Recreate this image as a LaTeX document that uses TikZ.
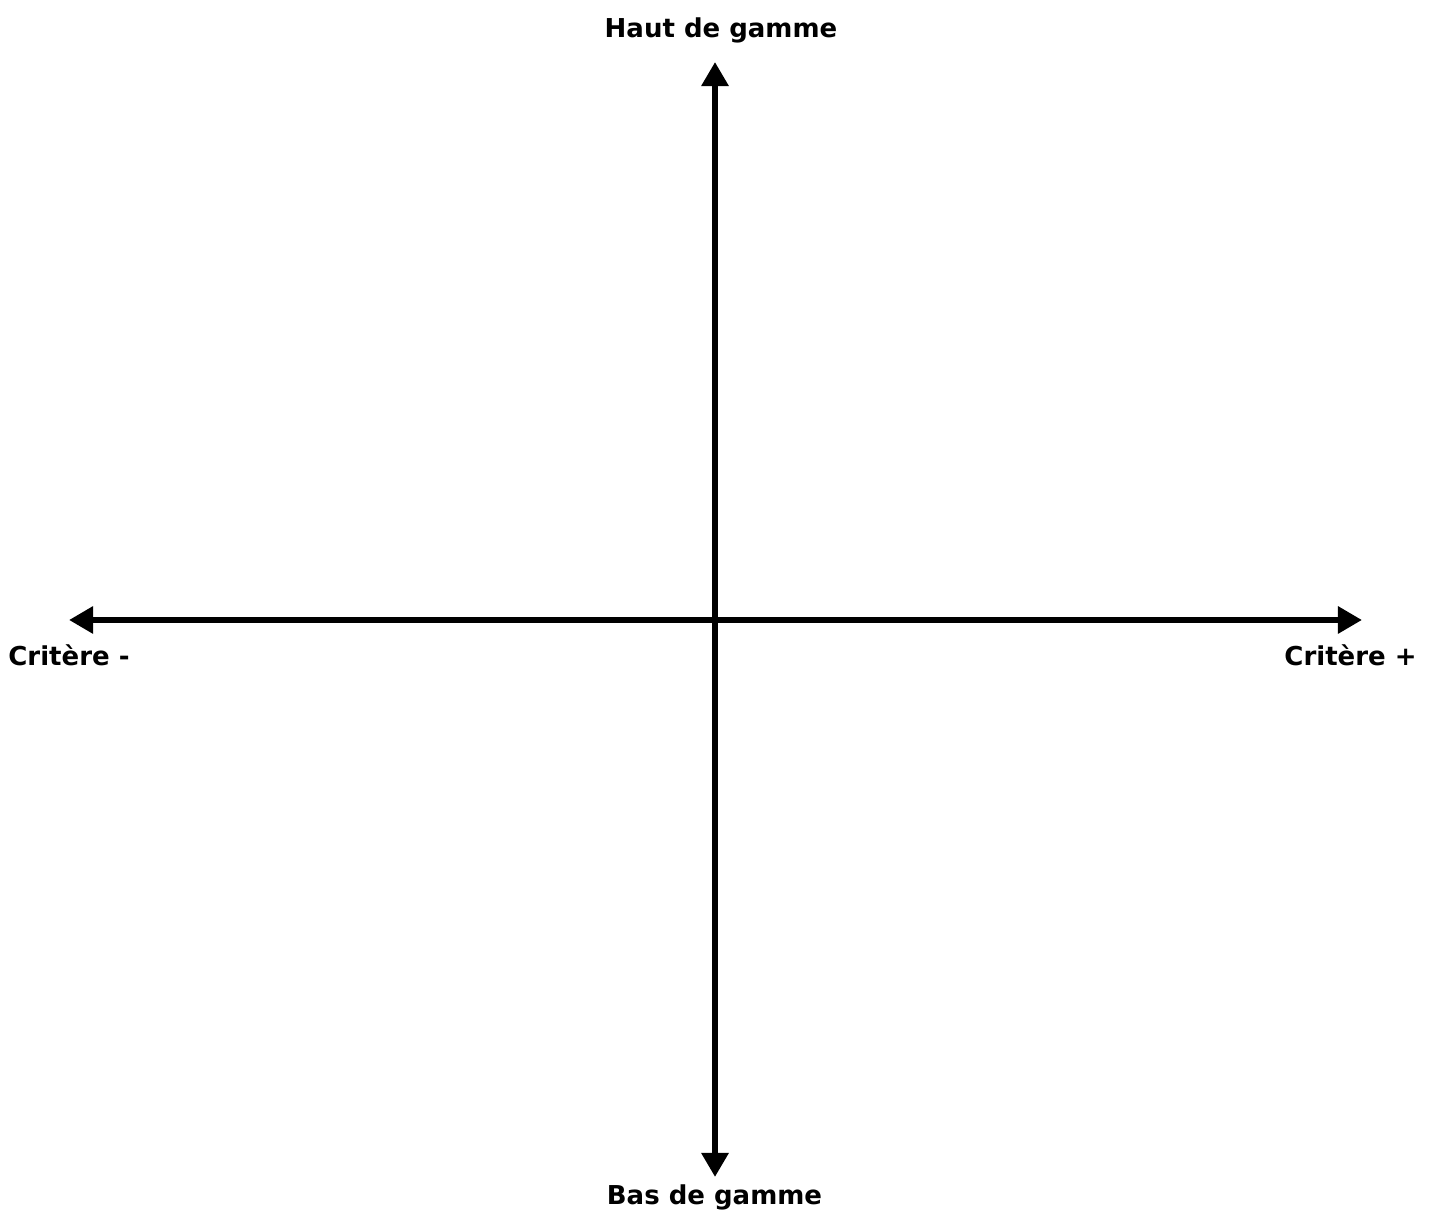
\documentclass[tikz,border=0pt]{standalone}
\usepackage{fontspec}
\setmainfont{DejaVu Sans}
\usetikzlibrary{arrows.meta}

\begin{document}
\begin{tikzpicture}[>={Triangle[length=13.7pt,width=14.8pt]},
    axe/.style={line width=3.6pt, black, <->},
    lbl/.style={font=\fontsize{14.8}{17}\selectfont\bfseries, inner sep=0pt}]
  \useasboundingbox (0,0) rectangle (28.84,24.48);
  % extremites des axes
  \coordinate (haut) at (14.30,23.24);
  \coordinate (bas) at (14.30,0.94);
  \coordinate (gauche) at (1.38,12.08);
  \coordinate (droite) at (27.24,12.08);
  \draw[axe] (bas) -- (haut);
  \draw[axe] (gauche) -- (droite);
  % libelles
  \node[lbl, anchor=base] (hautgamme) at (14.42,23.72) {Haut de gamme};
  \node[lbl, anchor=base] (basgamme) at (14.29,0.38) {Bas de gamme};
  \node[lbl, anchor=base west] (critmoins) at (0.16,11.16) {Critère -};
  \node[lbl, anchor=base east] (critplus) at (28.34,11.16) {Critère +};
\end{tikzpicture}
\end{document}
